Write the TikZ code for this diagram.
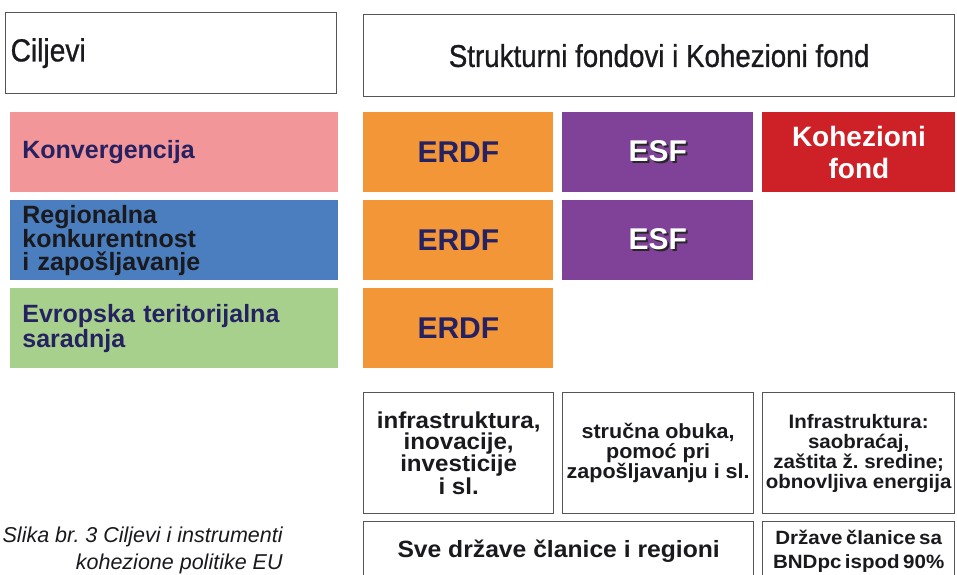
\documentclass[tikz,border=0pt]{standalone}
\usepackage{fontspec}
\setmainfont{Liberation Sans}
\newfontfamily\narrowfont[FakeStretch=0.88,FakeBold=0.8]{Liberation Sans}
\newfontfamily\widefont[FakeStretch=1.05]{Liberation Sans}
\newfontfamily\tightfont[FakeStretch=1.07,WordSpace=0.6]{Liberation Sans}

\definecolor{rowpink}{RGB}{242,150,154}
\definecolor{rowblue}{RGB}{74,126,190}
\definecolor{rowgreen}{RGB}{168,208,141}
\definecolor{fundorange}{RGB}{243,150,56}
\definecolor{fundpurple}{RGB}{128,66,152}
\definecolor{fundred}{RGB}{205,33,39}
\definecolor{navytext}{RGB}{38,34,98}
\definecolor{darktext}{RGB}{25,25,30}
\definecolor{framegray}{RGB}{85,85,85}

\newcommand{\shadowed}[1]{\rlap{\hspace{2pt}\raisebox{-2pt}{\color{black!85}#1}}#1}

\tikzset{every picture/.style={line width=0.75pt}}
\tikzset{
	frame/.style={draw=framegray, line width=1.3pt, fill=white, inner sep=0pt, anchor=north west, text=darktext},
	band/.style={draw=none, inner sep=0pt, anchor=north west, minimum height=80},
	goalrow/.style={band, text width=304, inner xsep=12, align=left, font=\bfseries\fontsize{25}{23}\selectfont},
	fund/.style={band, minimum width=190, align=center, font=\bfseries\fontsize{30}{32}\selectfont},
	note/.style={frame, minimum height=121, align=center, font=\widefont\bfseries\fontsize{20.5}{20}\selectfont}
}

\begin{document}
\begin{tikzpicture}[x=1pt,y=1pt,yscale=-1,xscale=1]
	\useasboundingbox (0,0) rectangle (957,574);
	
	% Header row
	\node [frame, minimum height=81, text width=321, inner xsep=5, align=left, font=\narrowfont\fontsize{32}{32}\selectfont] (ciljevi) at (5,12) {Ciljevi};
	\node [frame, minimum width=591, minimum height=82, font=\narrowfont\fontsize{31.5}{32}\selectfont] (strukturni) at (363,14) {Strukturni fondovi i Kohezioni fond};
	
	% Goals
	\node [goalrow, fill=rowpink, text=navytext] (konvergencija) at (10,112) {Konvergencija};
	\node [goalrow, fill=rowblue, text=darktext] (regionalna) at (10,200) {Regionalna\\konkurentnost\\i zapošljavanje};
	\node [goalrow, fill=rowgreen, text=navytext] (evropska) at (10,288) {Evropska teritorijalna\\saradnja};
	
	% Funds
	\node [fund, fill=fundorange, text=navytext] (erdfA) at (363,112) {ERDF};
	\node [fund, fill=fundorange, text=navytext] (erdfB) at (363,200) {ERDF};
	\node [fund, fill=fundorange, text=navytext] (erdfC) at (363,288) {ERDF};
	\node [fund, minimum width=191, fill=fundpurple, text=white] (esfA) at (562,112) {\shadowed{ESF}};
	\node [fund, minimum width=191, fill=fundpurple, text=white] (esfB) at (562,200) {\shadowed{ESF}};
	\node [fund, minimum width=193, fill=fundred, text=white, font=\bfseries\fontsize{28}{32}\selectfont] (kohezioni) at (762,112) {Kohezioni\\fond};
	
	% Areas of support
	\node [note, minimum width=190, font=\widefont\bfseries\fontsize{23}{21}\selectfont] (infra) at (363,392) {infrastruktura,\\inovacije,\\investicije\\i sl.};
	\node [note, minimum width=191] (obuka) at (562,392) {stručna obuka,\\pomoć pri\\zapošljavanju i sl.};
	\node [note, minimum width=192, font=\widefont\bfseries\fontsize{19.5}{20}\selectfont] (saobracaj) at (762,392) {Infrastruktura:\\saobraćaj,\\zaštita ž.\ sredine;\\obnovljiva energija};
	
	% Eligibility
	\node [frame, minimum width=390, minimum height=60, font=\widefont\bfseries\fontsize{23.5}{24}\selectfont] (sve) at (363,521) {Sve države članice i regioni};
	\node [frame, minimum width=192, minimum height=60, align=center, font=\tightfont\bfseries\fontsize{19.2}{24}\selectfont] (drzave) at (762,521) {Države članice sa\\BNDpc ispod 90\%};
	
	% Caption
	\node [anchor=north east, inner sep=0pt, align=right, text=darktext, font=\itshape\fontsize{21.5}{27}\selectfont] (caption) at (283,527) {Slika br.\ 3 Ciljevi i instrumenti\\kohezione politike EU};
\end{tikzpicture}
\end{document}
